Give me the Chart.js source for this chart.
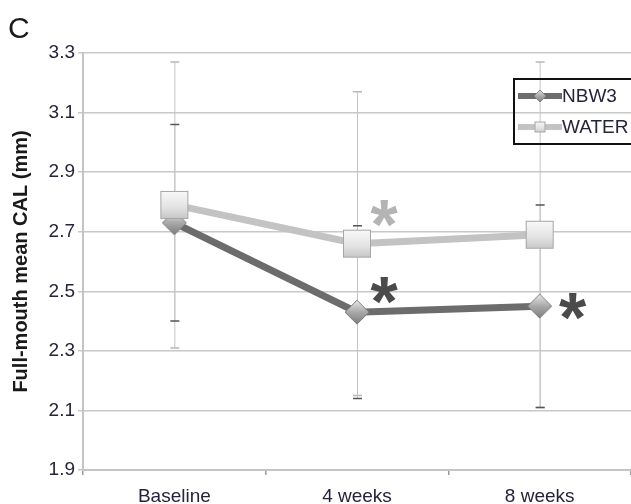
<!DOCTYPE html>
<html>
<head>
<meta charset="utf-8">
<script src="https://cdn.jsdelivr.net/npm/chart.js@4.4.1/dist/chart.umd.min.js"></script>
<style>
  html, body { margin: 0; padding: 0; background: #fff; }
</style>
</head>
<body>
<canvas id="chart" width="631" height="504"></canvas>
<script>
const labels = ["Baseline", "4 weeks", "8 weeks"];
const nbw3 = [2.73, 2.43, 2.45];
const water = [2.79, 2.66, 2.69];
const nbw3Err = [0.33, 0.29, 0.34];
const waterErr = [0.48, 0.51, 0.58];
const yTicks = [1.9, 2.1, 2.3, 2.5, 2.7, 2.9, 3.1, 3.3];
// significance stars: [dataset index, point index]
const stars = [[1, 1], [0, 1], [0, 2]];

const FONT = "'Liberation Sans', Arial, sans-serif";
const TEXT = '#25253a';

// 3d-ish marker images
function diamondImg(r) {
    const c = document.createElement('canvas');
    c.width = c.height = r * 2 + 2;
    const g = c.getContext('2d');
    const m = r + 1;
    const grad = g.createLinearGradient(0, 0, 0, c.height);
    grad.addColorStop(0, '#eeeeee');
    grad.addColorStop(0.5, '#a9a9a9');
    grad.addColorStop(1, '#7a7a7a');
    g.beginPath();
    g.moveTo(m, 1); g.lineTo(c.width - 1, m); g.lineTo(m, c.height - 1); g.lineTo(1, m);
    g.closePath();
    g.fillStyle = grad;
    g.fill();
    g.strokeStyle = '#808080';
    g.lineWidth = 1;
    g.stroke();
    return c;
}

function squareImg(s) {
    const c = document.createElement('canvas');
    c.width = c.height = s + 2;
    const g = c.getContext('2d');
    const grad = g.createLinearGradient(0, 0, 0, c.height);
    grad.addColorStop(0, '#fbfbfb');
    grad.addColorStop(0.6, '#e2e2e2');
    grad.addColorStop(1, '#c4c4c4');
    g.fillStyle = grad;
    g.fillRect(1, 1, s, s);
    g.strokeStyle = '#a6a6a6';
    g.lineWidth = 1;
    g.strokeRect(1.5, 1.5, s - 1, s - 1);
    return c;
}

const extras = {
    id: 'extras',
    beforeDatasetsDraw(chart) {
        const { ctx, scales: { x, y } } = chart;
        ctx.save();
        [[water, waterErr, '#b8b8b8'], [nbw3, nbw3Err, '#555555']].forEach(([vals, errs, capColor]) => {
            vals.forEach((v, i) => {
                const px = x.getPixelForValue(i);
                const top = y.getPixelForValue(v + errs[i]);
                const bot = y.getPixelForValue(v - errs[i]);
                ctx.strokeStyle = '#c4c4c4';
                ctx.lineWidth = 1;
                ctx.beginPath();
                ctx.moveTo(px + 0.5, top); ctx.lineTo(px + 0.5, bot);
                ctx.stroke();
                ctx.strokeStyle = capColor;
                ctx.lineWidth = 1.5;
                ctx.beginPath();
                ctx.moveTo(px - 4, top); ctx.lineTo(px + 5, top);
                ctx.moveTo(px - 4, bot); ctx.lineTo(px + 5, bot);
                ctx.stroke();
            });
        });
        ctx.restore();
    },
    afterDraw(chart) {
        const { ctx, chartArea, scales: { x, y } } = chart;
        ctx.save();
        // panel letter
        ctx.fillStyle = '#1a1a1a';
        ctx.font = '30px ' + FONT;
        ctx.textBaseline = 'alphabetic';
        ctx.textAlign = 'left';
        ctx.fillText('C', 8, 38);

        // asterisks
        const offs = [[27, -30], [27, -22], [33, 0]];
        stars.forEach(([d, i], k) => {
            const ds = chart.data.datasets[d];
            const px = x.getPixelForValue(i) + offs[k][0];
            const py = y.getPixelForValue(ds.data[i]) + offs[k][1];
            ctx.fillStyle = d === 0 ? '#4a4a4a' : '#b4b4b4';
            ctx.font = 'bold 70px ' + FONT;
            ctx.textAlign = 'center';
            ctx.textBaseline = 'alphabetic';
            const m = ctx.measureText('*');
            const mid = (m.actualBoundingBoxAscent - m.actualBoundingBoxDescent) / 2;
            ctx.fillText('*', px, py + mid);
        });

        // legend
        const lx = chartArea.right - 117;
        const ly = chartArea.top + 26;
        ctx.strokeStyle = '#111';
        ctx.lineWidth = 2;
        ctx.strokeRect(lx, ly, 140, 65);
        const items = [[chart.data.datasets[0], 17, smallDiamond], [chart.data.datasets[1], 48, smallSquare]];
        items.forEach(([ds, dy, img]) => {
            ctx.strokeStyle = ds.borderColor;
            ctx.lineWidth = 6;
            ctx.beginPath();
            ctx.moveTo(lx + 4, ly + dy); ctx.lineTo(lx + 48, ly + dy);
            ctx.stroke();
            ctx.drawImage(img, lx + 26 - img.width / 2, ly + dy - img.height / 2);
            ctx.fillStyle = TEXT;
            ctx.font = '19px ' + FONT;
            ctx.textAlign = 'left';
            ctx.textBaseline = 'middle';
            ctx.fillText(ds.label, lx + 48, ly + dy + 1);
        });
        ctx.restore();
    }
};

const smallDiamond = diamondImg(6);
const smallSquare = squareImg(11);

new Chart(document.getElementById('chart'), {
    type: 'line',
    data: {
        labels: labels,
        datasets: [
            {
                label: 'NBW3',
                data: nbw3,
                borderColor: '#6c6c6c',
                borderWidth: 7,
                pointStyle: diamondImg(12),
                order: 1
            },
            {
                label: 'WATER',
                data: water,
                borderColor: '#c3c3c3',
                borderWidth: 7,
                pointStyle: squareImg(28),
                order: 0
            }
        ]
    },
    options: {
        responsive: false,
        animation: false,
        layout: { autoPadding: false, padding: { top: 53, right: 0, left: 0, bottom: 0 } },
        plugins: {
            legend: { display: false },
            tooltip: { enabled: false }
        },
        scales: {
            x: {
                offset: true,
                grid: { offset: true, drawOnChartArea: false, tickLength: 5, color: '#9a9a9a', lineWidth: 1.5 },
                border: { color: '#c4c4c4', width: 2 },
                ticks: { padding: 10, color: TEXT, font: { family: FONT, size: 19 } },
                afterFit: s => { s.height = 34; s.paddingLeft = 0; s.paddingRight = 0; }
            },
            y: {
                min: 1.9,
                max: 3.3,
                afterBuildTicks: s => { s.ticks = yTicks.map(v => ({ value: v })); },
                grid: { color: '#c8c8c8', lineWidth: 1.5, tickLength: 5 },
                border: { color: '#c4c4c4', width: 2 },
                ticks: {
                    padding: 3,
                    color: TEXT,
                    font: { family: FONT, size: 19 },
                    callback: v => v.toFixed(1)
                },
                title: {
                    display: true,
                    text: 'Full-mouth mean CAL (mm)',
                    color: '#1a1a1a',
                    font: { family: FONT, size: 20, weight: 'bold' },
                    padding: { top: 9, bottom: 0 }
                },
                afterFit: s => { s.width = 83; }
            }
        }
    },
    plugins: [extras]
});
</script>
</body>
</html>
